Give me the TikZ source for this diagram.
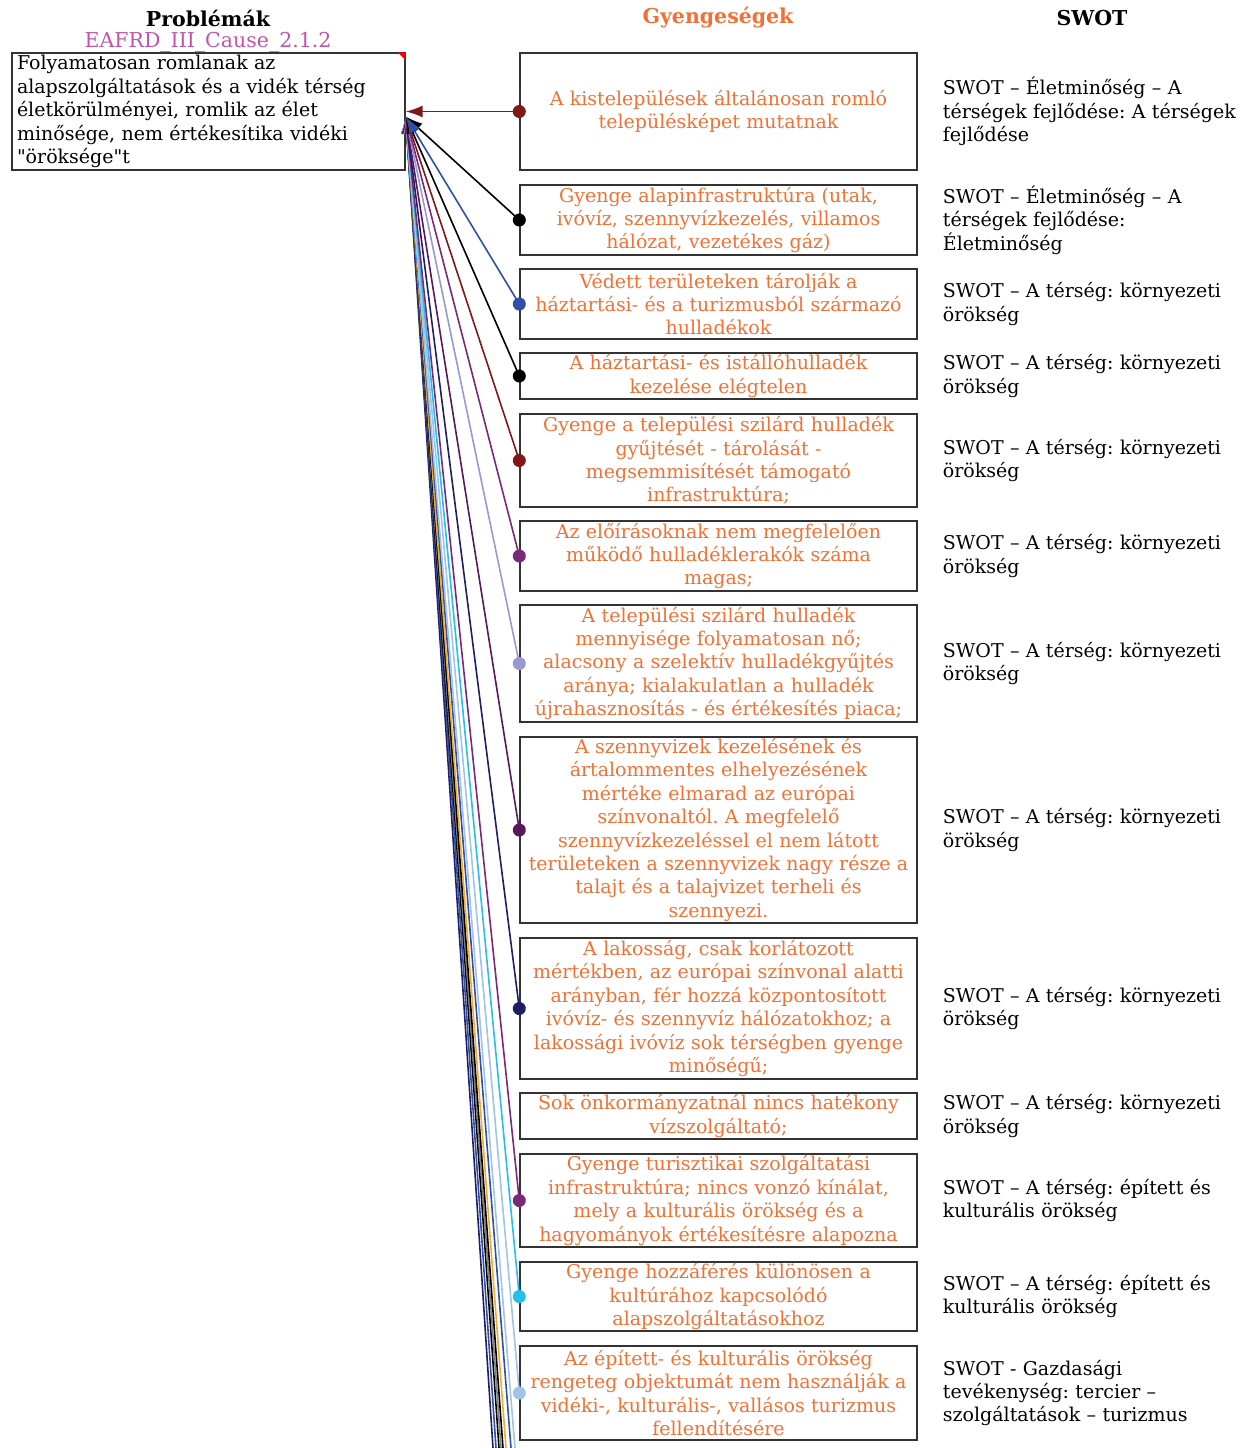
\documentclass[tikz,border=0pt]{standalone}
\usepackage{fontspec}
\setmainfont{DejaVu Serif}
\usetikzlibrary{arrows.meta,calc,positioning}
\definecolor{myorange}{RGB}{242,112,52}
\definecolor{mypink}{RGB}{192,84,170}
\definecolor{mydarkred}{RGB}{128,24,24}
\definecolor{myblue}{RGB}{48,80,168}
\definecolor{mypurple}{RGB}{122,40,122}
\definecolor{mylavender}{RGB}{152,152,210}
\definecolor{mydarkpurple}{RGB}{92,22,92}
\definecolor{mynavy}{RGB}{30,30,100}
\definecolor{mycyan}{RGB}{40,190,235}
\definecolor{mylightblue}{RGB}{160,196,232}
\definecolor{myamber}{RGB}{246,170,50}
\frenchspacing

\begin{document}
\begin{tikzpicture}[
  x=1pt, y=-1pt,
  font=\fontsize{19}{23.4}\selectfont,
  myhead/.style={font=\fontsize{20.5}{24}\selectfont\bfseries},
  probbox/.style={
    draw=black!80, line width=1.4pt,
    minimum width=393pt, minimum height=117pt,
    text width=383pt, inner xsep=5pt, inner ysep=0pt, align=left
    },
  weakbox/.style={
    draw=black!80, line width=1.4pt, text=myorange,
    minimum width=397pt, minimum height=#1,
    text width=389pt, inner xsep=4pt, inner ysep=0pt, align=center
    },
  swotbox/.style={text width=310pt, inner xsep=3pt, align=left},
  link/.style={line width=1.6pt, shorten <=-6.5pt,
    {Circle[length=13pt]}-{Latex[length=17pt,width=12pt]}},
  farlink/.style={line width=1.6pt, -{Latex[length=17pt,width=12pt]}}
]
\useasboundingbox (0,0) rectangle (1243,1448);
\clip (0,0) rectangle (1243,1448);

% headings
\node[myhead] (hprob) at (208,18) {Problémák};
\node[text=mypink, font=\fontsize{20.5}{24}\selectfont] (hcause) at (208,42) {EAFRD\_III\_Cause\_2.1.2};
\node[myhead, text=myorange] (hweak) at (718,18) {Gyengeségek};
\node[myhead] (hswot) at (1092,18) {SWOT};

% problem
\node[probbox] (prob) at (208.5,111.5)
  {\raisebox{-3pt}{}Folyamatosan romlanak az\\ alapszolgáltatások és a vidék térség\\ életkörülményei, romlik az élet\\ minősége, nem értékesítika vidéki\\ \textquotedbl öröksége\textquotedbl t};
\fill[red] (prob.north east) -- ++(-8,0) -- ++(8,8) -- cycle;
\coordinate (hub) at ([yshift=-5pt]prob.east);

% weaknesses
\node[weakbox=117pt] (w1) at (718.5,111.5) {A kistelepülések általánosan romló\\ településképet mutatnak};
\node[weakbox=70pt] (w2) at (718.5,220) {Gyenge alapinfrastruktúra (utak,\\ ivóvíz, szennyvízkezelés, villamos\\ hálózat, vezetékes gáz)};
\node[weakbox=70pt] (w3) at (718.5,304) {Védett területeken tárolják a\\ háztartási- és a turizmusból származó\\ hulladékok};
\node[weakbox=46pt] (w4) at (718.5,376) {A háztartási- és istállóhulladék\\ kezelése elégtelen};
\node[weakbox=93pt] (w5) at (718.5,460.5) {Gyenge a települési szilárd hulladék\\ gyűjtését - tárolását -\\ megsemmisítését támogató\\ infrastruktúra;};
\node[weakbox=70pt] (w6) at (718.5,556) {Az előírásoknak nem megfelelően\\ működő hulladéklerakók száma\\ magas;};
\node[weakbox=117pt] (w7) at (718.5,663.5) {A települési szilárd hulladék\\ mennyisége folyamatosan nő;\\ alacsony a szelektív hulladékgyűjtés\\ aránya; kialakulatlan a hulladék\\ újrahasznosítás - és értékesítés piaca;};
\node[weakbox=186pt] (w8) at (718.5,830) {A szennyvizek kezelésének és\\ ártalommentes elhelyezésének\\ mértéke elmarad az európai\\ színvonaltól. A megfelelő\\ szennyvízkezeléssel el nem látott\\ területeken a szennyvizek nagy része a\\ talajt és a talajvizet terheli és\\ szennyezi.};
\node[weakbox=141pt] (w9) at (718.5,1008.5) {A lakosság, csak korlátozott\\ mértékben, az európai színvonal alatti\\ arányban, fér hozzá központosított\\ ivóvíz- és szennyvíz hálózatokhoz; a\\ lakossági ivóvíz sok térségben gyenge\\ minőségű;};
\node[weakbox=46pt] (w10) at (718.5,1116) {Sok önkormányzatnál nincs hatékony\\ vízszolgáltató;};
\node[weakbox=93pt] (w11) at (718.5,1200.5) {Gyenge turisztikai szolgáltatási\\ infrastruktúra; nincs vonzó kínálat,\\ mely a kulturális örökség és a\\ hagyományok értékesítésre alapozna};
\node[weakbox=69pt] (w12) at (718.5,1296.5) {Gyenge hozzáférés különösen a\\ kultúrához kapcsolódó\\ alapszolgáltatásokhoz};
\node[weakbox=94pt] (w13) at (718.5,1393) {Az épített- és kulturális örökség\\ rengeteg objektumát nem használják a\\ vidéki-, kulturális-, vallásos turizmus\\ fellendítésére};

% swot
\node[swotbox, right=22pt of w1] (s1) {SWOT – Életminőség – A\\ térségek fejlődése: A térségek\\ fejlődése};
\node[swotbox, right=22pt of w2] (s2) {SWOT – Életminőség – A\\ térségek fejlődése:\\ Életminőség};
\foreach \i in {3,...,10}
  \node[swotbox, right=22pt of w\i] (s\i) {SWOT – A térség: környezeti\\ örökség};
\foreach \i in {11,12}
  \node[swotbox, right=22pt of w\i] (s\i) {SWOT – A térség: épített és\\ kulturális örökség};
\node[swotbox, right=22pt of w13] (s13) {SWOT - Gazdasági\\ tevékenység: tercier –\\ szolgáltatások – turizmus};

% links below the visible part
\foreach \x/\c [count=\k] in {493/mynavy,496/myblue,499/black,501/gray,503/black,506/myamber,511/myblue,515/mylightblue}
  \coordinate (far\k) at (\x,1448);
\foreach \x/\c [count=\k] in {493/mynavy,496/myblue,499/black,501/gray,503/black,506/myamber,511/myblue,515/mylightblue}
  \draw[farlink,\c] (far\k) -- (hub);

% links
\foreach \i/\c in {13/mylightblue,12/mycyan,11/mypurple,9/mynavy,8/mydarkpurple,7/mylavender,6/mypurple,5/mydarkred,4/black,2/black,3/myblue}
  \draw[link,\c] (w\i.west) -- (hub);
\draw[link,mydarkred] (w1.west) -- (prob.east);

\end{tikzpicture}
\end{document}
